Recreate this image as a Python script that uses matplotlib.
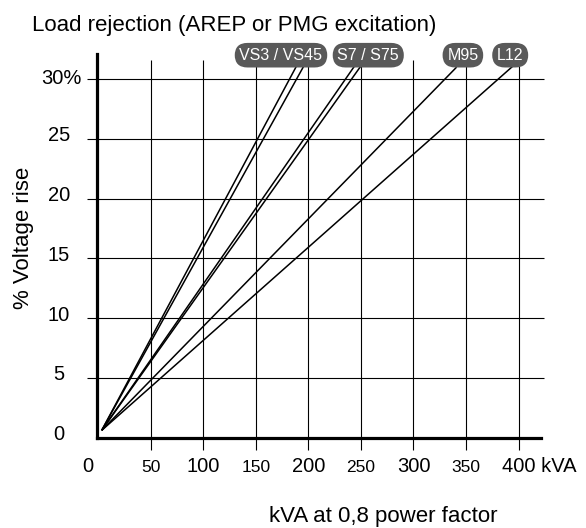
import matplotlib
matplotlib.use("Agg")
import matplotlib.pyplot as plt
from matplotlib.transforms import ScaledTranslation

plt.rcParams['font.family'] = ['Liberation Sans', 'DejaVu Sans']

# --- data ---
models = ['VS3', 'VS45', 'S7', 'S75', 'M95', 'L12']
start_kva = 3.5
start_rise = 0.6
end_kva = [190, 197, 244, 250, 341, 396]
end_rise = [31.3, 31.3, 31.1, 31.1, 31.0, 31.2]

tag_text = ['VS3 / VS45', 'S7 / S75', 'M95', 'L12']
tag_kva = [174, 257, 347, 392]

x_ticks = [0, 50, 100, 150, 200, 250, 300, 350, 400]
x_labels = ['0', '50', '100', '150', '200', '250', '300', '350', '400 kVA']
y_ticks = [0, 5, 10, 15, 20, 25, 30]
y_labels = ['0', '5', '10', '15', '20', '25', '30%']

# --- figure ---
W, H = 586, 528
fig = plt.figure(figsize=(W / 100, H / 100), dpi=100)
ax = fig.add_axes([97 / W, 1 - 437.5 / H, (540.7 - 97) / W, (437.5 - 54) / H])
ax.set_xlim(-1, 421)
ax.set_ylim(0, 32.1)

for s in ['top', 'right']:
    ax.spines[s].set_visible(False)
for s in ['left', 'bottom']:
    ax.spines[s].set_linewidth(2.3)
    ax.spines[s].set_color('black')
ax.set_xticks([])
ax.set_yticks([])

# grid, running a little past the axes like the original
ax.vlines(x_ticks[1:], -1.05, 31.6, color='black', lw=0.8, clip_on=False, zorder=1)
ax.hlines(y_ticks[1:], -10.5, 424, color='black', lw=0.8, clip_on=False, zorder=1)

# voltage rise lines
for xe, ye in zip(end_kva, end_rise):
    ax.plot([start_kva, xe], [start_rise, ye], color='black', lw=1.1,
            clip_on=False, zorder=3, solid_capstyle='butt')

# model tags
for txt, xk in zip(tag_text, tag_kva):
    ax.text(xk, 32.0, txt, ha='center', va='center', fontsize=11.5, color='white',
            clip_on=False, zorder=4,
            bbox=dict(boxstyle='round,pad=0.3,rounding_size=0.8',
                      fc='#595959', ec='none'))

# x tick labels (alternating sizes, baselines aligned)
def px(dx, dy):
    return ScaledTranslation(dx / 100, dy / 100, fig.dpi_scale_trans)

for i, (xv, lab) in enumerate(zip(x_ticks, x_labels)):
    size = 14.5 if i % 2 == 0 else 12.5
    if lab.endswith('kVA'):
        ax.text(xv, 0, lab, ha='left', va='baseline', fontsize=size,
                transform=ax.get_xaxis_transform() + px(-17, -34.5))
        continue
    dx = -10 if xv == 0 else 0
    ax.text(xv, 0, lab, ha='center', va='baseline', fontsize=size,
            transform=ax.get_xaxis_transform() + px(dx, -34.5))

# y tick labels
for yv, lab in zip(y_ticks, y_labels):
    if lab.endswith('%'):
        ax.text(0, yv, lab, ha='right', va='center', fontsize=14.5,
                transform=ax.get_yaxis_transform() + px(-15, 1))
    else:
        ax.text(0, yv, lab, ha='center', va='center', fontsize=14.5,
                transform=ax.get_yaxis_transform() + px(-38, 3))

fig.text(31.5 / W, 1 - 31 / H, 'Load rejection (AREP or PMG excitation)',
         ha='left', va='baseline', fontsize=16)
fig.text(23.5 / W, 1 - 238 / H, '% Voltage rise', rotation=90,
         ha='center', va='center', fontsize=16)
fig.text(383 / W, 1 - 522 / H, 'kVA at 0,8 power factor',
         ha='center', va='baseline', fontsize=16)

fig.savefig('out.png', dpi=100)
